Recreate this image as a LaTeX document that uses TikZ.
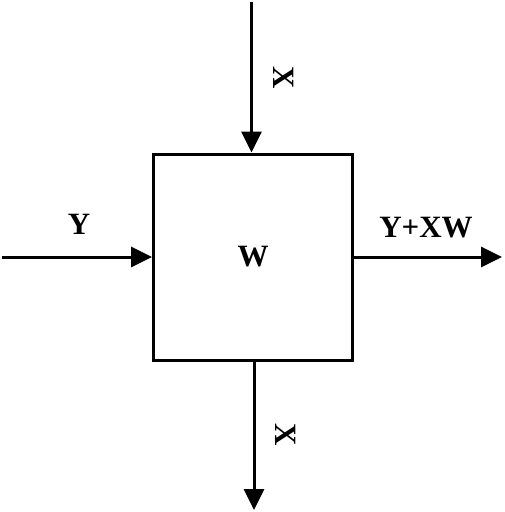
\documentclass[tikz,border=0pt]{standalone}
\usepackage{fontspec}
\setmainfont{Liberation Serif}
\usetikzlibrary{arrows.meta}
\begin{document}
\begin{tikzpicture}[x=1pt,y=-1pt,
  conn/.style={line width=3pt,-{Triangle[length=21pt,width=20pt]}},
  lbl/.style={font=\fontsize{31}{31}\selectfont\bfseries,inner sep=0pt}]
\useasboundingbox (0,0) rectangle (504,512);
\node[draw,line width=3pt,minimum width=199pt,minimum height=206pt,inner sep=0pt] (box) at (253,257) {};
\node[lbl] (w) at (253,257) {W};
\coordinate (topin) at (251.5,2);
\coordinate (leftin) at (2,257);
\coordinate (rightout) at (502,257);
\coordinate (botout) at (254,510);
\draw[conn] (topin) -- (topin |- box.north);
\draw[conn] (leftin) -- (leftin -| box.west);
\draw[conn] (rightout -| box.east) -- (rightout);
\draw[conn] (botout |- box.south) -- (botout);
\node[lbl,rotate=-90] (x1) at (283.5,77.5) {X};
\node[lbl,rotate=-90] (x2) at (285.5,434.5) {X};
\node[lbl] (y) at (79,224.5) {Y};
\node[lbl] (yxw) at (426,228) {Y+XW};
\end{tikzpicture}
\end{document}
